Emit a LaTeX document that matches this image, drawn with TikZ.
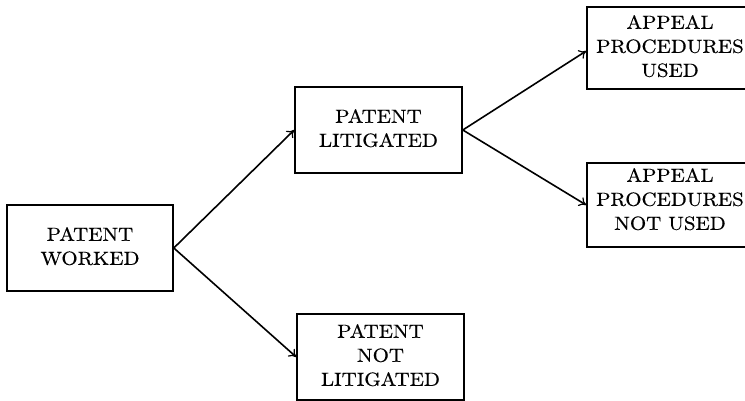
\documentclass[tikz,border=0pt]{standalone}
\usepackage{graphicx}
\usepackage{fontspec}
\setmainfont{lmroman10-regular.otf}[FakeBold=0.5,FakeStretch=1.1]
\usetikzlibrary{arrows.meta}

% two- or three-line box label
\newcommand\cellstack[1]{\begin{tabular}{@{}c@{}}#1\end{tabular}}

\begin{document}
\begin{tikzpicture}[x=1pt,y=-1pt,
  outcome/.style={draw,line width=1.6pt,inner sep=0pt,minimum width=166pt,
    font=\fontsize{19}{24}\selectfont},
  branch/.style={line width=1.6pt,-{To[length=7pt,width=10pt,line width=1.2pt]}}]
  \useasboundingbox (0,0) rectangle (745,401);
  \begin{scope}
    \clip (0,0) rectangle (745,401);
    \node[outcome,minimum height=86pt] (worked) at (90,248)
      {\cellstack{PATENT\\WORKED}};
    \node[outcome,minimum width=167pt,minimum height=86pt] (lit) at (378.5,130)
      {\cellstack{PATENT\\LITIGATED}};
    \node[outcome,minimum width=167pt,minimum height=86pt] (notlit) at (380.5,357)
      {\cellstack{PATENT\\NOT\\LITIGATED}};
    \node[outcome,minimum height=82pt] (used) at (670,48)
      {\cellstack{APPEAL\\PROCEDURES\\USED}};
    % label sits a little above the middle of this box
    \node[outcome,minimum height=84pt] (notused) at (670,205)
      {\raisebox{4pt}[\height][\depth]{\cellstack{APPEAL\\PROCEDURES\\NOT USED}}};
  \end{scope}
  \draw[branch] (worked.east) -- (lit.west);
  \draw[branch] (worked.east) -- (notlit.west);
  \draw[branch] (lit.east) -- ([yshift=-3pt]used.west);
  \draw[branch] (lit.east) -- (notused.west);
\end{tikzpicture}
\end{document}
